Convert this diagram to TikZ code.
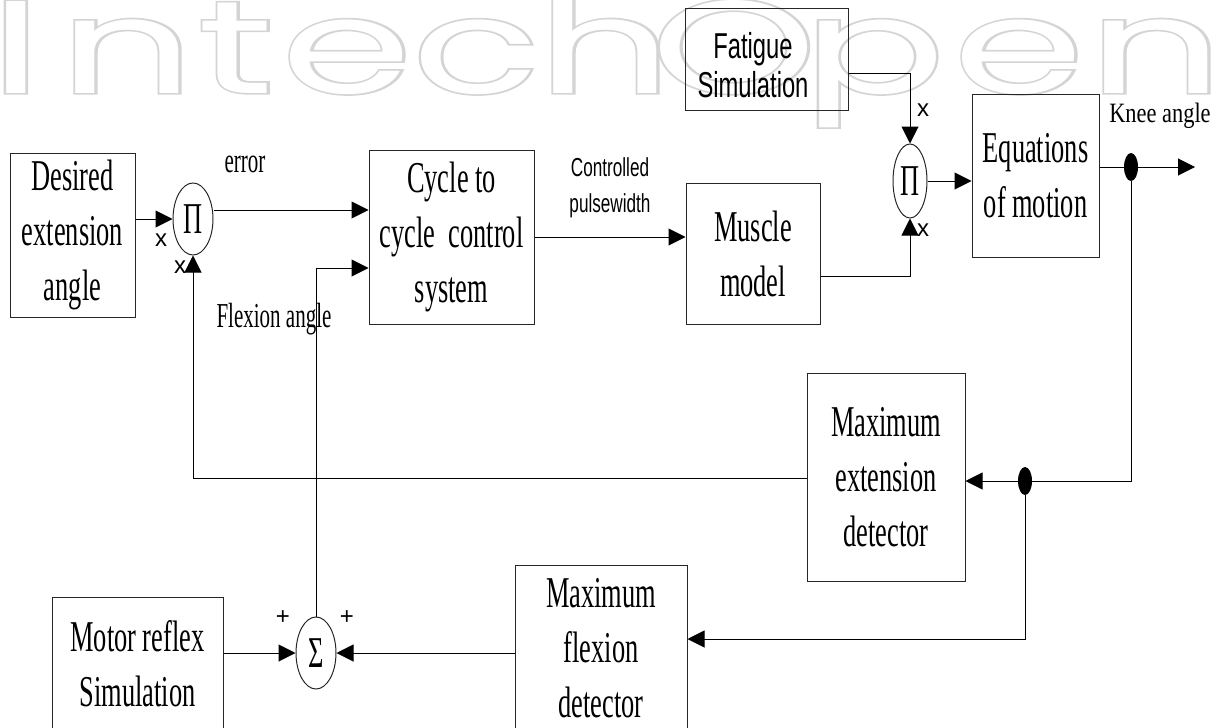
\documentclass[tikz,border=0pt]{standalone}
\usepackage{fontspec}
\setmainfont{Liberation Serif}
\newfontfamily\serifc[FakeStretch=0.6]{Liberation Serif}
\newfontfamily\serifk[FakeStretch=0.8]{Liberation Serif}
\newfontfamily\sansc[FakeStretch=0.66]{Liberation Sans}
\newfontfamily\sansn{Liberation Sans}
\newfontfamily\wmfont{Poppins}
\newfontfamily\wmbold[FakeBold=2.5]{Poppins}
\usetikzlibrary{arrows.meta,shapes.geometric,calc}
\begin{document}
\begin{tikzpicture}[x=1pt,y=-1pt,
  box/.style={draw=black!85, line width=1pt, inner sep=0pt, align=center, font=\serifc\fontsize{44}{55}\selectfont},
  ebox/.style={draw=black!85, line width=1pt, inner sep=0pt},
  op/.style={draw=black!85, ellipse, line width=1pt, inner sep=0pt, font=\serifc\fontsize{44}{44}\selectfont},
  dotn/.style={fill=black, ellipse, minimum width=14pt, minimum height=28pt, inner sep=0pt},
  arr/.style={line width=1pt, -{Triangle[length=17pt,width=17pt]}},
  lab/.style={font=\serifc\fontsize{35}{35}\selectfont, inner sep=0pt},
  klab/.style={font=\serifk\fontsize{28}{28}\selectfont, inner sep=0pt},
  slab/.style={font=\sansc\fontsize{26}{36}\selectfont, inner sep=0pt},
  ftext/.style={font=\sansc\fontsize{36}{39}\selectfont, inner sep=0pt, align=center},
  sgn/.style={font=\sansn\fontsize{24}{24}\selectfont, inner sep=0pt},
  wmo/.style={anchor=base, inner sep=0pt, text=black!17, xscale=3.5, yscale=2.2, font=\wmbold\fontsize{60}{60}\selectfont},
  wmi/.style={anchor=base, inner sep=0pt, text=white, xscale=3.5, yscale=2.2, font=\wmfont\fontsize{60}{60}\selectfont}
]
\useasboundingbox (0,0) rectangle (1224,728);
% watermark
\foreach \ch/\cx in {I/16, n/127, t/236, e/347, c/476, h/605, O/734, p/874, e/1019, n/1156}{
  \node[wmo] (wmo-\cx) at (\cx,93) {\ch};
  \node[wmi] (wmi-\cx) at (\cx,93) {\ch};
}

% blocks
\node[box, minimum width=125pt, minimum height=164pt] (desired) at (72.5,235) {Desired\\extension\\angle};
\node[op, minimum width=40pt, minimum height=72pt] (pi1) at (193,219) {Π};
\node[box, minimum width=165pt, minimum height=174pt] (cycle) at (451.5,237) {Cycle to\\cycle\ \ control\\system};
\node[box, minimum width=134pt, minimum height=141pt] (muscle) at (753,253.5) {Muscle\\model};
\node[ebox, minimum width=163pt, minimum height=102pt] (fatigue) at (766.5,59) {};
\node[ftext] (fatiguetxt) at (753,65) {Fatigue\\Simulation};
\node[op, minimum width=34pt, minimum height=74pt] (pi2) at (910,181) {Π};
\node[box, minimum width=127pt, minimum height=163pt] (eq) at (1035.5,175.5) {Equations\\of motion};
\node[box, minimum width=158pt, minimum height=208pt] (maxext) at (886,477) {Maximum\\extension\\detector};
\node[box, minimum width=172pt, minimum height=166pt] (maxflex) at (601,648) {Maximum\\flexion\\detector};
\node[box, minimum width=171pt, minimum height=134pt] (motor) at (137.5,664) {Motor reflex\\Simulation};
\node[op, minimum width=40pt, minimum height=72pt] (sigma) at (316,653) {Σ};
\coordinate (kneeend) at (1195,167);

% connectors
\draw[arr] (desired.east |- pi1.west) -- (pi1.west);
\draw[arr] (pi1.east |- 0,210) -- (cycle.west |- 0,210);
\draw[arr] (sigma.north) -- (sigma.north |- 0,268) -- (cycle.west |- 0,268);
\draw[arr] (cycle.east) -- (muscle.west |- cycle.east);
\draw[arr] (fatigue.east |- 0,73) -| (pi2.north);
\draw[arr] (muscle.east |- 0,276) -| (pi2.south);
\draw[arr] (pi2.east) -- (eq.west |- pi2.east);
\draw[arr] (eq.east |- 0,167) -- (kneeend);
\node[dotn] (dot1) at (1131,167) {};
\node[dotn] (dot2) at (1025,481) {};
\draw[arr] (dot1) |- (dot2) -- (maxext.east |- dot2);
\draw[arr] (dot2) |- (maxflex.east |- 0,639);
\draw[arr] (maxext.west |- 0,478) -| (pi1.south);
\draw[arr] (maxflex.west |- sigma.east) -- (sigma.east);
\draw[arr] (motor.east |- sigma.west) -- (sigma.west);

% labels
\node[sgn] (x1) at (161,240) {x};
\node[sgn] (x2) at (180,267) {x};
\node[sgn] (x3) at (923,110) {x};
\node[sgn] (x4) at (923,230) {x};
\node[sgn] (p1) at (283,618) {+};
\node[sgn] (p2) at (347,618) {+};
\node[lab, anchor=base] (err) at (245,172) {error};
\node[lab, anchor=base] (flex) at (274,327) {Flexion angle};
\node[slab, anchor=base] (c1) at (610,176) {Controlled};
\node[slab, anchor=base] (c2) at (610,212) {pulsewidth};
\node[klab, anchor=base] (knee) at (1160,122) {Knee angle};
\end{tikzpicture}
\end{document}
